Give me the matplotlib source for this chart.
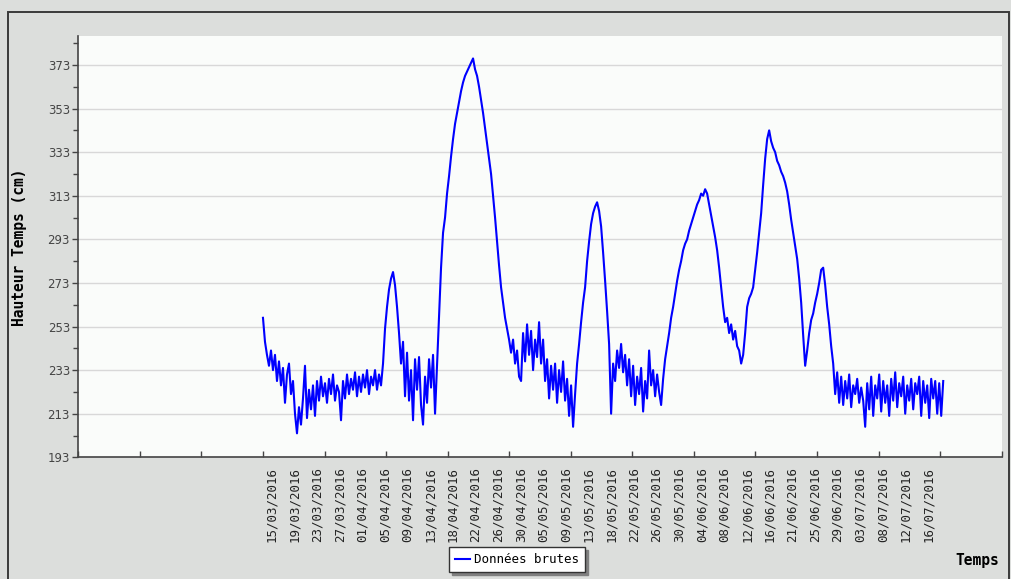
import matplotlib.pyplot as plt
import numpy as np

# date labels written under the x axis
dates = ['15/03/2016', '19/03/2016', '23/03/2016', '27/03/2016', '01/04/2016',
         '05/04/2016', '09/04/2016', '13/04/2016', '18/04/2016', '22/04/2016',
         '26/04/2016', '30/04/2016', '05/05/2016', '09/05/2016', '13/05/2016',
         '18/05/2016', '22/05/2016', '26/05/2016', '30/05/2016', '04/06/2016',
         '08/06/2016', '12/06/2016', '16/06/2016', '21/06/2016', '25/06/2016',
         '29/06/2016', '03/07/2016', '08/07/2016', '12/07/2016', '16/07/2016']

# raw water height (cm)
hauteur = [
    257, 246, 240, 235, 242, 233, 240, 228, 237, 226,
    234, 218, 231, 236, 222, 228, 213, 204, 216, 208,
    220, 235, 211, 224, 215, 226, 212, 228, 219, 230,
    221, 227, 218, 229, 222, 231, 219, 226, 223, 210,
    228, 220, 231, 222, 229, 224, 232, 221, 230, 223,
    231, 225, 233, 222, 230, 226, 233, 224, 231, 226,
    236, 252, 262, 270, 275, 278, 272, 262, 250, 236,
    246, 221, 241, 219, 233, 210, 238, 224, 239, 217,
    208, 230, 218, 238, 225, 240, 213, 235, 258, 280,
    296, 303, 314, 322, 331, 339, 346, 351, 356, 361,
    365, 368, 370, 372, 374, 376, 371, 368, 363, 357,
    351, 344, 337, 330, 323, 313, 303, 292, 281, 271,
    264, 257, 252, 247, 241, 247, 236, 242, 230, 228,
    250, 237, 254, 240, 251, 233, 247, 239, 255, 236,
    247, 228, 238, 220, 235, 224, 236, 218, 233, 223,
    237, 219, 229, 212, 226, 207, 222, 236, 245, 255,
    264, 271, 283, 292, 300, 305, 308, 310, 306, 299,
    287, 274, 260, 245, 213, 236, 228, 242, 234, 245,
    232, 240, 226, 238, 221, 235, 217, 230, 222, 234,
    214, 228, 220, 242, 226, 233, 221, 231, 223, 217,
    229, 238, 244, 250, 257, 262, 268, 274, 279, 283,
    288, 291, 293, 297, 300, 303, 306, 309, 311, 314,
    313, 316, 314, 309, 304, 299, 294, 288, 280, 271,
    262, 255, 257, 250, 254, 247, 251, 244, 242, 236,
    240, 250, 262, 266, 268, 271, 279, 287, 296, 305,
    318, 330, 339, 343, 338, 335, 333, 329, 327, 324,
    322, 319, 315, 309, 302, 296, 290, 284, 275, 264,
    249, 235, 242, 250, 256, 259, 264, 268, 273, 279,
    280, 272, 262, 254, 244, 236, 222, 232, 218, 230,
    217, 228, 220, 231, 216, 226, 222, 229, 218, 225,
    219, 207, 227, 215, 230, 212, 226, 220, 231, 214,
    228, 218, 226, 212, 229, 219, 232, 216, 227, 221,
    230, 213, 226, 219, 229, 215, 227, 222, 230, 212,
    228, 218, 226, 211, 229, 220, 228, 213, 227, 212,
    228,
]

y_major = [193, 213, 233, 253, 273, 293, 313, 333, 353, 373]
y_minor = [203, 223, 243, 263, 283, 303, 323, 343, 363, 383]

W, H = 1012, 579
fig = plt.figure(figsize=(W / 100, H / 100), dpi=100)
fig.patch.set_facecolor('#dcdedc')

# outer frame
fig.add_artist(plt.Rectangle((8 / W, -0.02), (1009 - 8) / W, (H - 12) / H + 0.02,
                             transform=fig.transFigure, fill=False,
                             edgecolor='#3a3a3a', lw=1.4))

ax = fig.add_axes([78.3 / W, 1 - 457.3 / H, (1001.7 - 78.3) / W, (457.3 - 36) / H])
ax.set_facecolor('#fafcfa')

x = np.linspace(3.0, 14.05, len(hauteur))
ax.plot(x, hauteur, color='#0000ff', lw=1.5, label='Données brutes')

ax.set_xlim(0, 15)
ax.set_ylim(193, 386.3)

# numeric ticks along the axis, no labels
ax.set_xticks(range(16), labels=[''] * 16)
ax.tick_params(axis='x', which='major', direction='in', length=4, width=1, color='#444')
# date labels as minor ticks
date_pos = np.linspace(3.142, 13.805, len(dates))
ax.set_xticks(date_pos, labels=dates, minor=True)
ax.tick_params(axis='x', which='minor', length=0, pad=7, labelrotation=90,
               labelsize=9, labelcolor='#222')
for t in ax.get_xticklabels(minor=True):
    t.set_fontfamily('DejaVu Sans Mono')

ax.set_yticks(y_major)
ax.set_yticks(y_minor, minor=True)
ax.tick_params(axis='y', which='major', length=4, width=1, color='#444',
               labelsize=8.5, labelcolor='#444', pad=2)
ax.tick_params(axis='y', which='minor', length=3.5, width=1, color='#444')

ax.yaxis.grid(True, which='major', color='#d8d8d8', lw=1)
ax.set_axisbelow(True)

for s in ['top', 'right']:
    ax.spines[s].set_visible(False)
for s in ['left', 'bottom']:
    ax.spines[s].set_color('#444')
    ax.spines[s].set_linewidth(1.2)

fig.text(19.5 / W, 1 - 247 / H, 'Hauteur Temps (cm)', rotation=90, ha='center',
         va='center', fontfamily='DejaVu Sans Mono', fontweight='bold', fontsize=10.5)
fig.text(999 / W, 1 - 560.7 / H, 'Temps', ha='right', va='center',
         fontfamily='DejaVu Sans Mono', fontweight='bold', fontsize=10.5)

leg = ax.legend(loc='center', bbox_to_anchor=(517 / W, 1 - 559.7 / H),
                bbox_transform=fig.transFigure, prop={'family': 'DejaVu Sans Mono', 'size': 9},
                handlelength=1.2, handletextpad=0.3, borderpad=0.5, fancybox=False,
                framealpha=1, edgecolor='#333', shadow={'color': '#808080', 'alpha': 1})
leg.get_frame().set_linewidth(1)

fig.savefig('out.png', dpi=100, facecolor=fig.get_facecolor())
